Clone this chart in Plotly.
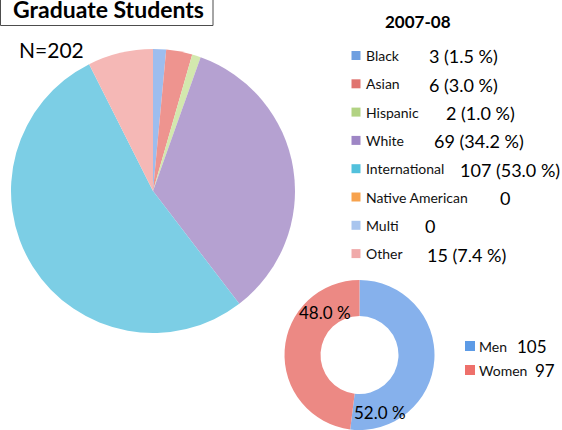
import plotly.graph_objects as go

W, H = 562, 430

# ---- data ----
title_text = "Graduate Students"
year_label = "2007-08"
total_n = 202
race_labels = ["Black", "Asian", "Hispanic", "White", "International",
               "Native American", "Multi", "Other"]
race_counts = [3, 6, 2, 69, 107, 0, 0, 15]
race_slice_colors = ["#9dbdee", "#ee948f", "#d3e8ae", "#b5a1d1", "#7ccee5",
                     "#f8b06a", "#b3cbf0", "#f5b8b6"]
race_swatch_colors = ["#6f9fe0", "#e07470", "#b2d383", "#9e86c5", "#52c1dc",
                      "#f7a24d", "#a9c5ee", "#f0aaaa"]
gender_labels = ["Men", "Women"]
gender_counts = [105, 97]
gender_slice_colors = ["#86b1ec", "#ec8984"]
gender_swatch_colors = ["#5d9be6", "#ee706b"]

# ---- layout helpers (pixels -> paper) ----
def fx(x):
    return x / W

def fy(y):
    return 1 - y / H

FONT = "Lato"

fig = go.Figure()

# main pie: centre (153,191), radius 142
fig.add_trace(go.Pie(
    labels=race_labels, values=race_counts, sort=False, direction="clockwise",
    rotation=0, textinfo="none", hoverinfo="label+value+percent",
    marker=dict(colors=race_slice_colors, line=dict(width=0)),
    domain=dict(x=[fx(11), fx(295)], y=[fy(333), fy(49)]),
    showlegend=False,
))

# gender donut: centre (359.5,355), radius 75
fig.add_trace(go.Pie(
    labels=gender_labels, values=gender_counts, sort=False, direction="clockwise",
    rotation=0, hole=0.52, textinfo="none", hoverinfo="label+value+percent",
    marker=dict(colors=gender_slice_colors, line=dict(width=0)),
    domain=dict(x=[fx(284.5), fx(434.5)], y=[fy(430), fy(280)]),
    showlegend=False,
))

shapes = []
ann = []

# title box
shapes.append(dict(type="rect", xref="paper", yref="paper",
                   x0=fx(0.5), x1=fx(213), y0=fy(25.5), y1=fy(-5),
                   line=dict(color="#4d4d4d", width=1), fillcolor="rgba(0,0,0,0)"))
ann.append(dict(text="<b>%s</b>" % title_text, x=fx(108.5), y=fy(9), xref="paper", yref="paper",
                xanchor="center", yanchor="middle", showarrow=False,
                font=dict(family=FONT, size=23, color="#000")))
ann.append(dict(text="N=%d" % total_n, x=fx(17), y=fy(49), xref="paper", yref="paper",
                xanchor="left", yanchor="middle", showarrow=False,
                font=dict(family=FONT, size=21, color="#000")))
ann.append(dict(text="<b>%s</b>" % year_label, x=fx(418), y=fy(21.5), xref="paper", yref="paper",
                xanchor="center", yanchor="middle", showarrow=False,
                font=dict(family=FONT, size=17, color="#000")))

# race legend
row0, row_step = 55.5, 28.3
value_x = [427, 427, 444, 432, 458, 498, 423, 425]
for i, (lab, cnt, col) in enumerate(zip(race_labels, race_counts, race_swatch_colors)):
    yc = row0 + i * row_step
    shapes.append(dict(type="rect", xref="paper", yref="paper",
                       x0=fx(351.5), x1=fx(360.5), y0=fy(yc + 4.5), y1=fy(yc - 4.5),
                       line=dict(width=0), fillcolor=col))
    ann.append(dict(text=lab, x=fx(363.5), y=fy(yc), xref="paper", yref="paper",
                    xanchor="left", yanchor="middle", showarrow=False,
                    font=dict(family=FONT, size=14, color="#111")))
    vtxt = "%d" % cnt if cnt == 0 else "%d (%.1f %%)" % (cnt, 100.0 * cnt / total_n)
    ann.append(dict(text=vtxt, x=fx(value_x[i]), y=fy(yc + 1), xref="paper", yref="paper",
                    xanchor="left", yanchor="middle", showarrow=False,
                    font=dict(family=FONT, size=18, color="#000")))

# gender legend
g_rows = [346, 370]
g_value_x = [515, 533]
for i, (lab, cnt, col) in enumerate(zip(gender_labels, gender_counts, gender_swatch_colors)):
    yc = g_rows[i]
    shapes.append(dict(type="rect", xref="paper", yref="paper",
                       x0=fx(465), x1=fx(475), y0=fy(yc + 5), y1=fy(yc - 5),
                       line=dict(width=0), fillcolor=col))
    ann.append(dict(text=lab, x=fx(476.5), y=fy(yc), xref="paper", yref="paper",
                    xanchor="left", yanchor="middle", showarrow=False,
                    font=dict(family=FONT, size=14, color="#111")))
    ann.append(dict(text="%d" % cnt, x=fx(g_value_x[i]), y=fy(yc), xref="paper", yref="paper",
                    xanchor="left", yanchor="middle", showarrow=False,
                    font=dict(family=FONT, size=17, color="#000")))

# donut percentage labels
pct_pos = [(352, 412), (297, 312)]
for (cnt, (px_, py_)) in zip(gender_counts, pct_pos):
    ann.append(dict(text="%.1f %%" % (100.0 * cnt / total_n), x=fx(px_), y=fy(py_),
                    xref="paper", yref="paper", xanchor="left", yanchor="middle",
                    showarrow=False, font=dict(family=FONT, size=17, color="#000")))

fig.update_layout(
    width=W, height=H, margin=dict(l=0, r=0, t=0, b=0),
    paper_bgcolor="white", plot_bgcolor="white",
    shapes=shapes, annotations=ann, showlegend=False,
)

fig.write_html("out.html", config={"displayModeBar": False},
               post_script="document.body.style.margin='0';document.body.style.overflow='hidden';")
